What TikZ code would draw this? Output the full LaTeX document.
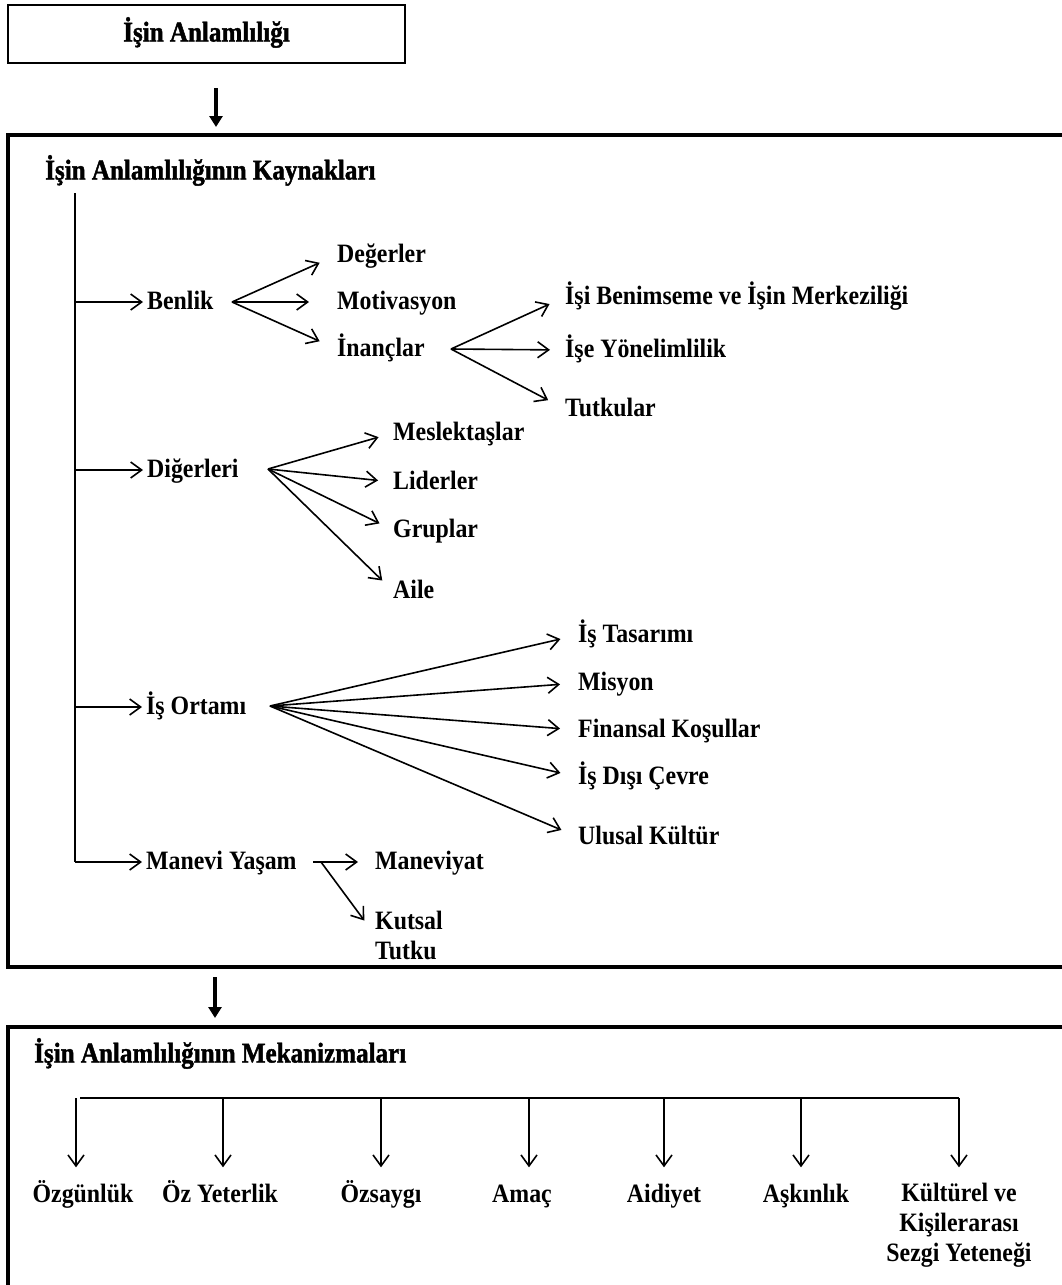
\documentclass[tikz,border=0pt]{standalone}
\usepackage{fontspec}
\setmainfont{Liberation Serif}[FakeStretch=0.9]
\newfontfamily\heavyfont{Liberation Serif}[FakeStretch=0.88,BoldFeatures={FakeBold=1.5}]
\usetikzlibrary{arrows.meta}

\begin{document}
\begin{tikzpicture}[x=1pt,y=-1pt,
  lbl/.style={font=\fontsize{26.5}{30}\selectfont\bfseries, inner sep=0pt,
    text height=17pt, text depth=2pt, anchor=west},
  ttl/.style={font=\heavyfont\fontsize{28.5}{32}\selectfont\bfseries, inner sep=0pt,
    text height=17pt, text depth=2pt, anchor=west},
  conn/.style={line width=1.6pt,
    -{Straight Barb[length=11pt,width=16pt,line width=1.6pt]}},
  bigarrow/.style={line width=4pt, -{Triangle[length=11pt,width=13pt]}},
  frame/.style={line width=3.2pt},
]
\useasboundingbox (0,0) rectangle (1062,1285);
\clip (0,0) rectangle (1062,1285);

% ---------- top box ----------
\node[ttl, anchor=center, draw, line width=2.6pt, minimum width=397pt,
  minimum height=58pt] (top) at (206.5,34) {İşin Anlamlılığı};

\coordinate (a1s) at (216,88);
\coordinate (a1e) at (216,127);
\draw[bigarrow] (a1s) -- (a1e);

% ---------- sources box ----------
\draw[frame] (8,135) rectangle (1100,967);
\node[ttl] (srcttl) at (45,172) {İşin Anlamlılığının Kaynakları};

\coordinate (trunk) at (75,193);

% first level
\node[lbl] (benlik)  at (147,302) {Benlik};
\node[lbl] (diger)   at (147,470) {Diğerleri};
\node[lbl] (isort)   at (146,707) {İş Ortamı};
\node[lbl] (manevi)  at (146,862) {Manevi Yaşam};

\draw[line width=1.6pt] (trunk) -- (trunk |- manevi.west);
\foreach \n in {benlik,diger,isort,manevi}
  \draw[conn] (trunk |- \n.west) -- (\n.west) [shorten >=4pt];

% Benlik
\node[lbl] (deger)  at (337,255) {Değerler};
\node[lbl] (motiv)  at (337,302) {Motivasyon};
\node[lbl] (inanc)  at (337,349) {İnançlar};
\coordinate (bo) at (232,302);
\draw[conn, shorten >=19pt] (bo) -- (deger.west);
\draw[conn, shorten >=28pt] (bo) -- (motiv.west);
\draw[conn, shorten >=19pt] (bo) -- (inanc.west);

% İnançlar
\node[lbl] (benims) at (565,297) {İşi Benimseme ve İşin Merkeziliği};
\node[lbl] (yonel)  at (565,350) {İşe Yönelimlilik};
\node[lbl] (tutku)  at (565,409) {Tutkular};
\coordinate (io) at (451,349);
\draw[conn, shorten >=17pt] (io) -- (benims.west);
\draw[conn, shorten >=15pt] (io) -- (yonel.west);
\draw[conn, shorten >=19pt] (io) -- (tutku.west);

% Diğerleri
\node[lbl] (meslek) at (393,433) {Meslektaşlar};
\node[lbl] (lider)  at (393,482) {Liderler};
\node[lbl] (grup)   at (393,530) {Gruplar};
\node[lbl] (aile)   at (393,591) {Aile};
\coordinate (dO) at (268,469);
\foreach \n in {meslek,lider,grup,aile}
  \draw[conn, shorten >=15pt] (dO) -- (\n.west);

% İş Ortamı
\node[lbl] (tasar)  at (578,635) {İş Tasarımı};
\node[lbl] (misyon) at (578,683) {Misyon};
\node[lbl] (finans) at (578,730) {Finansal Koşullar};
\node[lbl] (disi)   at (578,777) {İş Dışı Çevre};
\node[lbl] (ulusal) at (578,837) {Ulusal Kültür};
\coordinate (iO) at (270,706);
\foreach \n in {tasar,misyon,finans,disi,ulusal}
  \draw[conn, shorten >=18pt] (iO) -- (\n.west);

% Manevi Yaşam
\node[lbl] (maneviyat) at (375,862) {Maneviyat};
\node[lbl, align=left, font=\fontsize{26.5}{30}\selectfont\bfseries,
  text height=, text depth=] (kutsal) at (375,935) {Kutsal\\Tutku};
\coordinate (mO) at (313,862);
\coordinate (mD) at (321,862);
\draw[conn, shorten >=17pt] (mO) -- (maneviyat.west);
\draw[conn, shorten >=18pt] (mD) -- (kutsal.west);

% ---------- mechanisms box ----------
\coordinate (a2s) at (215,977);
\coordinate (a2e) at (215,1018);
\draw[bigarrow] (a2s) -- (a2e);

\draw[frame] (8,1027) rectangle (1100,1320);
\node[ttl] (mekttl) at (34,1055) {İşin Anlamlılığının Mekanizmaları};

\coordinate (busL) at (80,1098);
\coordinate (busR) at (959,1098);
\draw[line width=1.6pt] (busL) -- (busR);

\node[lbl, anchor=center] (m1) at (83,1195)  {Özgünlük};
\node[lbl, anchor=center] (m2) at (220,1195) {Öz Yeterlik};
\node[lbl, anchor=center] (m3) at (381,1195) {Özsaygı};
\node[lbl, anchor=center] (m4) at (522,1195) {Amaç};
\node[lbl, anchor=center] (m5) at (664,1195) {Aidiyet};
\node[lbl, anchor=center] (m6) at (806,1195) {Aşkınlık};
\node[lbl, anchor=center, align=center, text height=, text depth=,
  font=\fontsize{26.5}{30}\selectfont\bfseries] (m7) at (959,1225)
  {Kültürel ve\\Kişilerarası\\Sezgi Yeteneği};

\coordinate (b1) at (76,1098);
\coordinate (b2) at (223,1098);
\coordinate (b3) at (381,1098);
\coordinate (b4) at (529,1098);
\coordinate (b5) at (664,1098);
\coordinate (b6) at (801,1098);
\coordinate (b7) at (959,1098);
\foreach \b in {b1,b2,b3,b4,b5,b6,b7}
  \draw[conn, shorten >=18pt] (\b) -- (\b |- m1.north);
\end{tikzpicture}
\end{document}
